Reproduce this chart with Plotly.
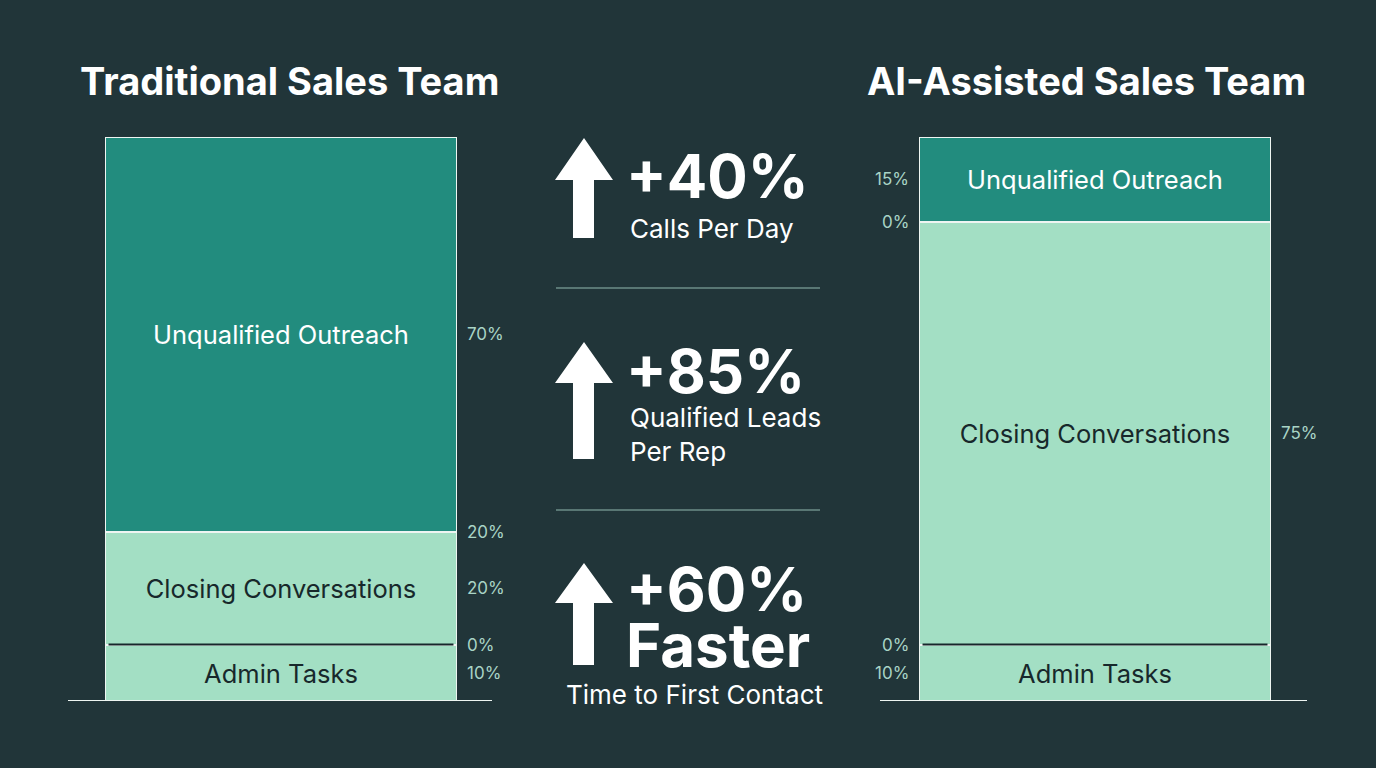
import plotly.graph_objects as go
import numpy as np

# ---------------- data ----------------
segments = ["Admin Tasks", "Closing Conversations", "Unqualified Outreach"]
traditional = [10, 20, 70]
ai_assisted = [10, 75, 15]
panel_titles = ["Traditional Sales Team", "AI-Assisted Sales Team"]

# side labels as printed in the reference, with the segment they sit on
left_labels = ["70%", "20%", "20%", "0%", "10%"]
left_label_anchor = [(2, "mid"), (1, "top"), (1, "mid"), (0, "top"), (0, "mid")]
right_labels_outer_left = ["15%", "0%", "0%", "10%"]
right_label_anchor_left = [(2, "mid"), (1, "top"), (0, "top"), (0, "mid")]
right_labels_outer_right = ["75%"]
right_label_anchor_right = [(1, "mid")]

kpi_values = ["+40%", "+85%", "+60%"]
kpi_captions = ["Calls Per Day", "Qualified Leads<br>Per Rep", "Time to First Contact"]
kpi_extra = ["", "", "Faster"]

# ---------------- style ----------------
BG = "#213539"
TEAL = "#228c7e"
MINT = "#a3dfc4"
DARK_TXT = "#17282b"
SIDE_TXT = "#a9d4c6"
WHITE = "#ffffff"
FONT = "Inter"
W, H = 1376, 768

seg_colors = [MINT, MINT, TEAL]
seg_text_colors = [DARK_TXT, DARK_TXT, WHITE]


def px_x(x):
    return x / W


def px_y(y):
    return 1 - y / H


fig = go.Figure()

for axis, vals in (("x", traditional), ("x2", ai_assisted)):
    for i, seg in enumerate(segments):
        fig.add_trace(go.Bar(
            x=[0], y=[vals[i]], xaxis=axis, yaxis="y",
            marker=dict(color=seg_colors[i], line=dict(color="#eef5f2", width=2)),
            text=[seg], textposition="inside", insidetextanchor="middle",
            textangle=0, constraintext="none",
            textfont=dict(family=FONT, size=25.5, color=seg_text_colors[i]),
            hoverinfo="skip", showlegend=False, width=1,
        ))

y_dom = [px_y(701), px_y(137)]
fig.update_layout(
    barmode="stack", bargap=0,
    width=W, height=H,
    paper_bgcolor=BG, plot_bgcolor=BG,
    margin=dict(l=0, r=0, t=0, b=0, pad=0),
    xaxis=dict(domain=[px_x(105), px_x(457)], range=[-0.5, 0.5], visible=False, fixedrange=True),
    xaxis2=dict(domain=[px_x(919), px_x(1271)], range=[-0.5, 0.5], visible=False, fixedrange=True),
    yaxis=dict(domain=y_dom, range=[0, 100], visible=False, fixedrange=True),
    font=dict(family=FONT, color=WHITE),
)

shapes = []
annotations = []


def seg_pos(vals, idx, mode):
    cum = np.cumsum([0] + list(vals))
    if mode == "mid":
        return (cum[idx] + cum[idx + 1]) / 2
    return cum[idx + 1]


# dark boundary between admin & closing
for axis, vals in (("x", traditional), ("x2", ai_assisted)):
    shapes.append(dict(type="line", xref=axis, yref="y", x0=-0.49, x1=0.49,
                       y0=vals[0], y1=vals[0], line=dict(color=DARK_TXT, width=2)))

# baselines
for x0, x1 in ((68, 492), (880, 1307)):
    shapes.append(dict(type="line", xref="paper", yref="y", x0=px_x(x0), x1=px_x(x1),
                       y0=0, y1=0, line=dict(color="#eef5f2", width=2)))

# panel titles
for title, cx in zip(panel_titles, (289, 1086)):
    annotations.append(dict(text=f"<b>{title}</b>", x=px_x(cx), y=px_y(81), xref="paper", yref="paper",
                            showarrow=False, xanchor="center", yanchor="middle",
                            font=dict(family=FONT, size=38, color=WHITE)))

# side labels
for lab, (idx, mode) in zip(left_labels, left_label_anchor):
    annotations.append(dict(text=lab, x=px_x(465), y=seg_pos(traditional, idx, mode), xref="paper", yref="y",
                            showarrow=False, xanchor="left", yanchor="middle",
                            font=dict(family=FONT, size=17, color=SIDE_TXT)))
for lab, (idx, mode) in zip(right_labels_outer_left, right_label_anchor_left):
    annotations.append(dict(text=lab, x=px_x(911), y=seg_pos(ai_assisted, idx, mode), xref="paper", yref="y",
                            showarrow=False, xanchor="right", yanchor="middle",
                            font=dict(family=FONT, size=17, color=SIDE_TXT)))
for lab, (idx, mode) in zip(right_labels_outer_right, right_label_anchor_right):
    annotations.append(dict(text=lab, x=px_x(1279), y=seg_pos(ai_assisted, idx, mode), xref="paper", yref="y",
                            showarrow=False, xanchor="left", yanchor="middle",
                            font=dict(family=FONT, size=17, color=SIDE_TXT)))

# middle KPI panel: arrows
arrow_geo = [(138, 180, 238), (342, 383, 459), (563, 603, 665)]  # tip, head base, bottom (px)
for tip, base, bottom in arrow_geo:
    pts = [(584, tip), (613, base), (594, base), (594, bottom), (573, bottom), (573, base), (555, base)]
    path = "M " + " L ".join(f"{px_x(a):.5f},{px_y(b):.5f}" for a, b in pts) + " Z"
    shapes.append(dict(type="path", xref="paper", yref="paper", path=path,
                       fillcolor=WHITE, line=dict(width=0)))

# dividers
for y in (288, 510):
    shapes.append(dict(type="line", xref="paper", yref="paper", x0=px_x(556), x1=px_x(820),
                       y0=px_y(y), y1=px_y(y), line=dict(color="rgba(175,220,205,0.8)", width=1)))

# KPI texts
kpi_value_y = [176, 371, 589]
for v, y in zip(kpi_values, kpi_value_y):
    annotations.append(dict(text=f"<b>{v}</b>", x=px_x(624), y=px_y(y), xref="paper", yref="paper",
                            showarrow=False, xanchor="left", yanchor="middle",
                            font=dict(family=FONT, size=60, color=WHITE)))

annotations.append(dict(text=kpi_captions[0], x=px_x(628), y=px_y(229), xref="paper", yref="paper",
                        showarrow=False, xanchor="left", yanchor="middle", align="left",
                        font=dict(family=FONT, size=26, color=WHITE)))
annotations.append(dict(text=kpi_captions[1], x=px_x(628), y=px_y(434), xref="paper", yref="paper",
                        showarrow=False, xanchor="left", yanchor="middle", align="left",
                        font=dict(family=FONT, size=26, color=WHITE)))
annotations.append(dict(text=f"<b>{kpi_extra[2]}</b>", x=px_x(624), y=px_y(645), xref="paper", yref="paper",
                        showarrow=False, xanchor="left", yanchor="middle",
                        font=dict(family=FONT, size=60, color=WHITE)))
annotations.append(dict(text=kpi_captions[2], x=px_x(694), y=px_y(694), xref="paper", yref="paper",
                        showarrow=False, xanchor="center", yanchor="middle",
                        font=dict(family=FONT, size=26, color=WHITE)))

fig.update_layout(shapes=shapes, annotations=annotations)

fig.write_html("out.html", config={"displayModeBar": False},
               post_script="document.body.style.margin='0';document.body.style.overflow='hidden';")
